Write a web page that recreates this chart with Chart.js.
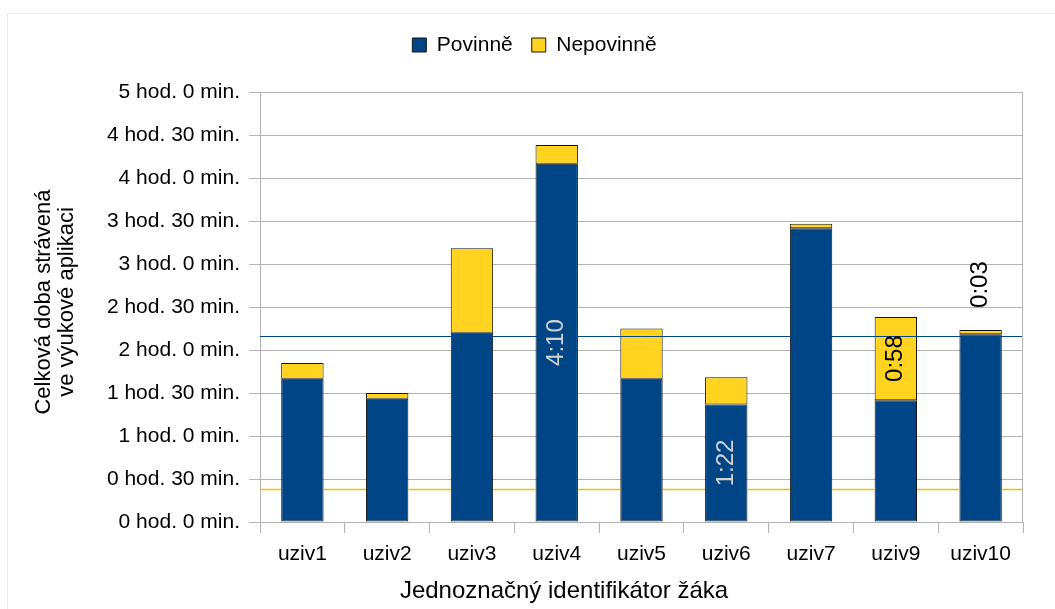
<!DOCTYPE html>
<html>
<head>
<meta charset="utf-8">
<script src="https://cdn.jsdelivr.net/npm/chart.js@4.4.1/dist/chart.umd.min.js"></script>
<style>
  html, body { margin: 0; padding: 0; background: #fff; }
</style>
</head>
<body>
<canvas id="myChart" width="1055" height="609"></canvas>
<script>
// doba v minutach
const uzivatele = ["uziv1", "uziv2", "uziv3", "uziv4", "uziv5", "uziv6", "uziv7", "uziv9", "uziv10"];
const povinne = [100, 86, 132, 250, 100, 82, 205, 85, 131];
const nepovinne = [11, 4, 59, 13, 35, 19, 3, 58, 3];

// ktere sloupce maji popisek s hodnotou
const popiskyPovinne = [3, 5];
const popiskyNepovinne = [7, 8];

const modra = '#004586';
const zluta = '#ffd320';
const mrizka = '#b3b3b3';

Chart.defaults.font.family = '"Liberation Sans", Arial, sans-serif';
Chart.defaults.color = '#000';

function hodMin(v) {
    return Math.floor(v / 60) + ' hod. ' + (v % 60) + ' min.';
}

function cas(v) {
    const m = v % 60;
    return Math.floor(v / 60) + ':' + (m < 10 ? '0' + m : m);
}

function prumer(arr) {
    let s = 0;
    for (var i = 0; i < arr.length; i++) s += arr[i];
    return s / arr.length;
}

// vodorovna cara prumeru; pod sloupci ji lze schovat orezem
function caraPrumeru(chart, hodnota, barva, sirka, podSloupci) {
    const ctx = chart.ctx;
    const a = chart.chartArea;
    const y = Math.round(chart.scales.y.getPixelForValue(hodnota)) + 0.5;
    ctx.save();
    if (podSloupci) {
        ctx.beginPath();
        ctx.rect(a.left, a.top, a.right - a.left, a.bottom - a.top);
        chart.data.datasets.forEach((ds, di) => {
            chart.getDatasetMeta(di).data.forEach(bar => {
                const p = bar.getProps(['x', 'y', 'base', 'width'], true);
                ctx.rect(p.x - p.width / 2, p.y, p.width, p.base - p.y);
            });
        });
        ctx.clip('evenodd');
    }
    ctx.strokeStyle = barva;
    ctx.lineWidth = sirka;
    ctx.beginPath();
    ctx.moveTo(a.left, y);
    ctx.lineTo(a.right, y);
    ctx.stroke();
    ctx.restore();
}

function popisek(chart, di, idx, barva, venku) {
    const ctx = chart.ctx;
    const bar = chart.getDatasetMeta(di).data[idx];
    const p = bar.getProps(['x', 'y', 'base'], true);
    const hodnota = chart.data.datasets[di].data[idx];
    ctx.save();
    ctx.font = '24px "Liberation Sans", Arial, sans-serif';
    ctx.fillStyle = barva;
    ctx.textBaseline = 'middle';
    if (venku) {
        ctx.translate(p.x, p.y - 22);
        ctx.textAlign = 'left';
    } else {
        ctx.translate(p.x, (p.y + p.base) / 2);
        ctx.textAlign = 'center';
    }
    ctx.rotate(-Math.PI / 2);
    ctx.fillText(cas(hodnota), 0, 0);
    ctx.restore();
}

const doplnky = {
    id: 'doplnky',
    beforeDraw(chart) {
        // jemny ramecek kolem grafu
        const ctx = chart.ctx;
        ctx.save();
        ctx.strokeStyle = '#ececec';
        ctx.lineWidth = 1;
        ctx.beginPath();
        ctx.moveTo(7.5, chart.height);
        ctx.lineTo(7.5, 13.5);
        ctx.lineTo(chart.width, 13.5);
        ctx.stroke();
        ctx.restore();
    },
    afterDatasetsDraw(chart) {
        const ctx = chart.ctx;
        const a = chart.chartArea;
        caraPrumeru(chart, prumer(nepovinne), '#ecc200', 1.5, true);
        caraPrumeru(chart, prumer(povinne), modra, 1, false);

        // pravy okraj diagramu
        ctx.save();
        ctx.strokeStyle = mrizka;
        ctx.lineWidth = 1;
        ctx.beginPath();
        ctx.moveTo(Math.round(a.right) - 0.5, a.top);
        ctx.lineTo(Math.round(a.right) - 0.5, a.bottom);
        ctx.stroke();
        ctx.restore();

        popiskyPovinne.forEach(i => popisek(chart, 0, i, '#d2d2d2', false));
        popiskyNepovinne.forEach(i => popisek(chart, 1, i, '#000', nepovinne[i] < 10));

        // popisky os
        ctx.save();
        ctx.fillStyle = '#000';
        ctx.textAlign = 'center';
        ctx.textBaseline = 'middle';
        ctx.font = '24px "Liberation Sans", Arial, sans-serif';
        ctx.fillText('Jednoznačný identifikátor žáka', 564, 591);
        ctx.font = '22px "Liberation Sans", Arial, sans-serif';
        ctx.translate(44, 302);
        ctx.rotate(-Math.PI / 2);
        ctx.fillText('Celková doba strávená', 0, 0);
        ctx.fillText('ve výukové aplikaci', 0, 23);
        ctx.restore();
    }
};

new Chart(document.getElementById('myChart').getContext('2d'), {
    type: 'bar',
    data: {
        labels: uzivatele,
        datasets: [
            {
                label: 'Povinně',
                data: povinne,
                backgroundColor: modra,
                borderColor: '#141414',
                borderWidth: 1,
                borderSkipped: false,
                barPercentage: 0.5,
                categoryPercentage: 1
            },
            {
                label: 'Nepovinně',
                data: nepovinne,
                backgroundColor: zluta,
                borderColor: '#141414',
                borderWidth: 1,
                borderSkipped: false,
                barPercentage: 0.5,
                categoryPercentage: 1
            }
        ]
    },
    options: {
        responsive: false,
        animation: false,
        layout: { padding: { left: 46, right: 32, top: 15.5, bottom: 0 } },
        plugins: {
            legend: {
                position: 'top',
                labels: {
                    boxWidth: 14,
                    boxHeight: 14,
                    padding: 19,
                    font: { size: 21 }
                }
            },
            // prazdny titulek jako mezera pod legendou
            title: {
                display: true,
                text: '',
                weight: 500,
                font: { size: 10 },
                padding: { top: 0, bottom: 14.5 }
            },
            tooltip: { enabled: false }
        },
        scales: {
            x: {
                stacked: true,
                grid: {
                    offset: true,
                    drawOnChartArea: false,
                    drawTicks: true,
                    tickLength: 11,
                    color: mrizka
                },
                border: { color: mrizka },
                ticks: { font: { size: 21 }, padding: 9 },
                afterFit(scale) { scale.height = 87; }
            },
            y: {
                stacked: true,
                min: 0,
                max: 300,
                grid: { color: mrizka, tickLength: 11 },
                border: { color: mrizka },
                ticks: {
                    stepSize: 30,
                    padding: 9,
                    font: { size: 21 },
                    callback: v => hodMin(v)
                },
                afterFit(scale) { scale.width = 214; }
            }
        }
    },
    plugins: [doplnky]
});
</script>
</body>
</html>
